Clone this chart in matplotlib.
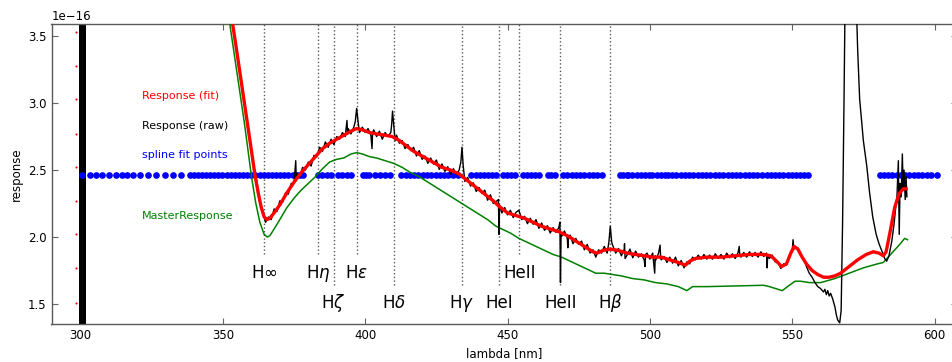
import numpy as np
import matplotlib
matplotlib.use('Agg')
import matplotlib.pyplot as plt

SCALE = 1e-16

# spectral lines marked on the plot (nm), label text, label row (0 = upper, 1 = lower)
line_wl = [364.6, 383.5, 388.9, 397.0, 410.2, 434.0, 447.1, 454.1, 468.6, 486.1]
line_names = [r'H$\infty$', r'H$\eta$', r'H$\zeta$', r'H$\epsilon$', r'H$\delta$',
              r'H$\gamma$', 'HeI', 'HeII', 'HeII', r'H$\beta$']
line_row = [0, 0, 1, 0, 1, 1, 1, 0, 1, 1]

# MasterResponse
master_wl = [351.0, 352.5, 355.0, 357.5, 360.0, 361.5, 363.0, 364.5, 365.6, 366.5,
             368.0, 370.0, 372.5, 375.0, 377.5, 380.0, 382.5, 385.0, 387.5, 390.0,
             392.5, 395.0, 397.0, 399.0, 401.5, 404.0, 407.0, 410.0, 413.0, 416.0,
             419.0, 422.0, 425.0, 428.0, 431.0, 434.0, 437.0, 440.0, 443.0, 446.0,
             448.0, 451.0, 454.0, 457.0, 460.0, 463.0, 466.0, 469.0, 472.0, 475.0,
             478.0, 481.0, 484.0, 487.0, 490.0, 494.0, 498.0, 502.0, 506.0, 510.0,
             513.0, 515.0, 520.0, 530.0, 540.0, 542.0, 546.5, 549.0, 551.0, 553.0,
             556.0, 560.0, 565.0, 570.0, 575.0, 580.0, 582.0, 585.0, 588.0, 589.5,
             590.5]
master_val = [3.80, 3.58, 3.22, 2.86, 2.46, 2.26, 2.11, 2.02, 2.00, 2.01,
              2.06, 2.13, 2.22, 2.29, 2.35, 2.40, 2.45, 2.51, 2.56, 2.58,
              2.59, 2.62, 2.63, 2.62, 2.60, 2.59, 2.57, 2.55, 2.52, 2.48,
              2.45, 2.41, 2.37, 2.33, 2.29, 2.25, 2.21, 2.17, 2.13, 2.08,
              2.06, 2.03, 1.99, 1.96, 1.93, 1.90, 1.87, 1.85, 1.82, 1.79,
              1.76, 1.73, 1.73, 1.72, 1.71, 1.69, 1.68, 1.66, 1.65, 1.63,
              1.60, 1.63, 1.63, 1.635, 1.64, 1.63, 1.60, 1.64, 1.67, 1.67,
              1.66, 1.66, 1.69, 1.73, 1.77, 1.80, 1.81, 1.88, 1.95, 1.99,
              1.98]

# Response (fit)
fit_wl = [351.0, 353.5, 355.0, 357.5, 360.0, 361.3, 362.5, 363.5, 364.5, 365.5,
          366.5, 368.0, 370.0, 372.5, 375.0, 377.5, 380.0, 382.5, 385.0, 387.5,
          390.0, 392.5, 395.0, 397.0, 399.0, 401.5, 404.0, 407.0, 409.5, 412.0,
          414.5, 417.0, 419.5, 422.0, 424.5, 427.0, 430.0, 433.0, 436.0, 439.0,
          442.0, 445.0, 447.0, 450.0, 453.0, 456.0, 459.0, 462.0, 465.0, 468.0,
          471.0, 474.0, 477.0, 480.0, 481.5, 483.5, 486.0, 489.0, 492.0, 495.0,
          498.0, 501.0, 504.0, 507.0, 510.0, 512.5, 514.0, 516.0, 520.0, 525.0,
          530.0, 535.0, 540.0, 542.5, 544.5, 546.3, 548.0, 549.5, 550.7, 552.0,
          553.5, 555.0, 557.0, 559.0, 561.0, 563.0, 565.0, 567.0, 570.0, 573.0,
          576.0, 578.5, 580.5, 582.0, 583.0, 584.5, 586.0, 587.5, 589.0, 590.0]
fit_val = [3.75, 3.58, 3.37, 3.01, 2.65, 2.46, 2.32, 2.22, 2.15, 2.13,
           2.14, 2.18, 2.24, 2.33, 2.41, 2.48, 2.54, 2.60, 2.66, 2.70,
           2.73, 2.76, 2.79, 2.81, 2.80, 2.78, 2.77, 2.76, 2.75, 2.72,
           2.68, 2.64, 2.61, 2.58, 2.55, 2.52, 2.50, 2.47, 2.42, 2.37,
           2.32, 2.27, 2.23, 2.18, 2.16, 2.14, 2.11, 2.08, 2.06, 2.04,
           2.01, 1.97, 1.93, 1.89, 1.88, 1.90, 1.91, 1.90, 1.88, 1.87,
           1.86, 1.85, 1.85, 1.83, 1.81, 1.79, 1.82, 1.84, 1.85, 1.85,
           1.86, 1.87, 1.87, 1.86, 1.82, 1.78, 1.80, 1.88, 1.93, 1.91,
           1.85, 1.80, 1.75, 1.72, 1.70, 1.70, 1.71, 1.73, 1.78, 1.83,
           1.87, 1.89, 1.88, 1.86, 1.89, 2.05, 2.22, 2.32, 2.36, 2.36]

# Response (raw), noisy trace with the emission / cosmic spikes
raw_wl = [351.0, 353.5, 355.0, 357.5, 360.0, 361.3,
          362, 363, 364, 365, 366, 367, 368, 369, 370, 371,
          372, 373, 374, 375, 375.6, 375.8, 376, 377, 378, 379,
          380, 381, 382, 383, 384, 385, 386, 387, 388, 389,
          390, 391, 392, 393, 393.6, 393.8, 394, 395, 396, 396.5,
          397.0, 397.5, 398, 399, 400, 401, 402, 402.4, 402.6, 403,
          404, 405, 406, 407, 408, 409, 409.3, 409.6, 410.0, 410.5,
          411, 412, 413, 414, 415, 416, 417, 418, 419, 420,
          421, 422, 423, 424, 425, 426, 427, 428, 429, 430,
          431, 432, 433, 433.6, 434.0, 434.4, 435, 436, 437, 438,
          439, 440, 441, 442, 443, 444, 445, 446, 446.8, 447.0,
          447.2, 448, 449, 450, 451, 452, 453, 454, 455, 456,
          457, 458, 459, 460, 461, 462, 463, 464, 465, 466,
          467, 468, 468.4, 468.6, 468.8, 469, 470, 471, 471.2, 471.4,
          472, 473, 474, 475, 476, 477, 478, 479, 480, 481,
          482, 483, 484, 485, 485.6, 486.1, 486.6, 487, 488, 489,
          490, 491, 491.1, 491.3, 492, 493, 494, 495, 496, 497,
          498, 498.3, 498.5, 499, 500, 501, 501.7, 501.9, 502, 503,
          503.6, 503.8, 504, 505, 506, 507, 508, 509, 510, 511,
          512, 513, 514, 515, 516, 517, 518, 519, 520, 521,
          522, 523, 524, 525, 526, 527, 528, 529, 530, 531,
          531.4, 531.6, 532, 533, 534, 535, 536, 537, 538, 539,
          540, 541, 541.2, 541.4, 542, 543, 544, 545, 546, 547,
          548, 549, 550, 550.3, 550.6, 551, 552, 553, 554, 555,
          556, 557, 558, 559, 560, 561, 561.5, 562, 562.5, 563,
          563.5, 564.2, 565.0, 565.5, 566.0, 566.7, 567.2, 567.7, 568.2, 568.7,
          569.5, 571.5, 572.3, 573.0, 573.7, 575.0, 576.2, 577.2, 578.3, 579.5,
          580.5, 581.8, 582.5, 583.2, 584.0, 585.0, 585.8, 586.5, 586.8, 587.3,
          587.6, 587.9, 588.3, 588.7, 589.0, 589.3, 589.7, 590.0, 590.3]
raw_val = [3.75, 3.58, 3.37, 3.01, 2.65, 2.46,
           2.41, 2.25, 2.20, 2.11, 2.15, 2.13, 2.21, 2.19, 2.27, 2.26,
           2.33, 2.32, 2.40, 2.40, 2.57, 2.42, 2.47, 2.45, 2.52, 2.50,
           2.56, 2.53, 2.61, 2.60, 2.67, 2.64, 2.71, 2.67, 2.73, 2.69,
           2.75, 2.73, 2.78, 2.75, 2.87, 2.78, 2.81, 2.77, 2.82, 2.86,
           2.96, 2.86, 2.78, 2.82, 2.78, 2.81, 2.76, 2.66, 2.78, 2.80,
           2.75, 2.79, 2.73, 2.78, 2.75, 2.78, 2.84, 2.94, 2.84, 2.72,
           2.76, 2.70, 2.72, 2.66, 2.69, 2.645, 2.67, 2.605, 2.645, 2.58,
           2.605, 2.55, 2.59, 2.545, 2.575, 2.505, 2.545, 2.49, 2.525, 2.47,
           2.51, 2.465, 2.50, 2.56, 2.67, 2.54, 2.415, 2.445, 2.38, 2.405,
           2.34, 2.37, 2.325, 2.35, 2.275, 2.315, 2.25, 2.265, 2.28, 2.02,
           2.24, 2.18, 2.22, 2.165, 2.20, 2.145, 2.185, 2.20, 2.13, 2.155,
           2.10, 2.14, 2.095, 2.13, 2.065, 2.105, 2.05, 2.085, 2.03, 2.07,
           2.035, 2.07, 2.11, 1.66, 2.02, 2.005, 2.045, 1.99, 1.92, 2.00,
           2.015, 1.95, 1.99, 1.945, 1.97, 1.905, 1.945, 1.88, 1.905, 1.85,
           1.905, 1.88, 1.93, 1.88, 1.96, 2.08, 1.96, 1.935, 1.88, 1.915,
           1.86, 1.91, 1.95, 1.84, 1.865, 1.91, 1.845, 1.895, 1.85, 1.875,
           1.83, 1.78, 1.87, 1.88, 1.835, 1.88, 1.73, 1.86, 1.825, 1.875,
           1.94, 1.84, 1.83, 1.855, 1.81, 1.85, 1.805, 1.85, 1.785, 1.825,
           1.77, 1.815, 1.80, 1.85, 1.83, 1.865, 1.835, 1.87, 1.835, 1.865,
           1.835, 1.875, 1.84, 1.87, 1.835, 1.88, 1.845, 1.875, 1.84, 1.885,
           1.93, 1.86, 1.85, 1.885, 1.85, 1.89, 1.855, 1.885, 1.85, 1.89,
           1.855, 1.88, 1.77, 1.86, 1.84, 1.865, 1.815, 1.815, 1.765, 1.80,
           1.79, 1.86, 1.89, 1.98, 1.91, 1.92, 1.92, 1.86, 1.84, 1.78,
           1.73, 1.70, 1.66, 1.63, 1.615, 1.59, 1.61, 1.57, 1.60, 1.56,
           1.58, 1.54, 1.48, 1.42, 1.38, 1.36, 1.45, 2.10, 3.00, 4.00,
           4.50, 4.50, 3.90, 3.40, 3.03, 2.72, 2.53, 2.33, 2.15, 2.02,
           1.95, 1.88, 1.84, 1.82, 1.86, 1.97, 2.10, 2.25, 2.30, 2.57,
           2.02, 2.40, 2.30, 2.62, 2.35, 2.50, 2.28, 2.45, 2.30]

# wavelengths of the spline fit points
spline_wl = [300.6, 303.2, 305.3, 307.6, 310.0, 312.5, 314.5, 316.4, 318.6, 321.0,
             323.6, 326.6, 329.5, 332.4, 335.3,
             338.3, 339.8, 341.2, 342.6, 344.0, 345.5, 347.0, 348.4, 349.8, 351.3,
             352.7, 354.2, 355.6, 357.1, 358.5, 360.0, 361.4, 362.9, 364.3, 365.8,
             367.2, 368.7, 370.1, 371.6, 373.0, 374.5, 375.9, 377.0, 378.1,
             383.4, 385.0, 386.6, 388.1,
             390.4, 392.0, 393.6, 395.1,
             399.2, 400.4, 401.5,
             403.4, 405.1, 406.9, 408.6,
             412.7, 414.2, 415.7, 417.2, 418.7, 420.2, 421.7, 423.2, 424.7, 426.2,
             427.7, 429.2, 430.7, 432.6,
             437.3, 438.8, 440.3, 441.8, 443.2, 444.7, 446.1,
             448.4, 449.8, 451.2, 452.5,
             455.3, 456.8, 458.3, 459.8, 461.2,
             464.2, 465.4, 466.6,
             469.5, 471.0, 472.5, 474.0, 475.5, 477.0, 478.5, 480.0, 481.5, 483.3,
             489.4, 490.6, 491.8,
             492.4, 493.9, 495.4, 496.9, 498.4, 499.6, 500.6,
             502.4, 503.8, 505.2,
             506.3, 507.8, 509.3, 510.8, 512.3, 513.8, 515.3, 516.8, 518.3, 519.8,
             521.3, 522.8, 524.3, 525.8, 527.3, 528.8, 530.3, 531.8, 533.3, 534.8,
             536.3, 537.8, 539.4, 541.0,
             542.4, 543.9, 545.4, 546.9, 548.4, 549.9, 551.4, 552.9, 554.2, 555.4,
             580.7, 582.2, 583.7, 585.2, 586.7, 588.2, 589.7, 591.2, 592.7, 594.2,
             595.7, 597.2, 598.8, 600.8]
spline_level = 2.46

# fit values running off the top at the blue end
fit_edge_wl = 298.5
fit_edge_val = [3.53, 3.28, 3.03, 2.77, 2.52, 2.27, 2.02, 1.77, 1.51]

# saturated raw data band
raw_band = (299.4, 301.9)

# series captions
captions = ['Response (fit)', 'Response (raw)', 'spline fit points', 'MasterResponse']
caption_y = [3.05, 2.83, 2.61, 2.157]
caption_colors = ['red', 'black', 'blue', 'green']


if __name__ == '__main__':

    plt.rcParams['font.family'] = 'DejaVu Sans'
    plt.rcParams['mathtext.fontset'] = 'dejavusans'
    plt.rcParams['xtick.direction'] = 'in'
    plt.rcParams['ytick.direction'] = 'in'

    fig = plt.figure(figsize=(9.52, 3.62), dpi=100)
    ax = fig.add_axes([51.5 / 952, 38 / 362, (957 - 51.5) / 952, 300 / 362])

    ymin, ymax = 1.351, 3.59

    # dotted markers for the spectral lines, stopping above their labels
    label_y = [1.731, 1.507]
    stop_y = [1.87, 1.645]
    for wl, name, row in zip(line_wl, line_names, line_row):
        ax.plot([wl, wl], [stop_y[row] * SCALE, ymax * SCALE], ls=':', color='0.35',
                lw=1.0, zorder=1)
        ax.text(wl, label_y[row] * SCALE, name, ha='center', va='center', fontsize=12,
                zorder=3)

    ax.axvspan(raw_band[0], raw_band[1], color='black', lw=0, zorder=2)
    ax.plot([fit_edge_wl] * len(fit_edge_val), np.array(fit_edge_val) * SCALE, 'o',
            color='red', ms=1.5, mew=0, zorder=2)

    ax.plot(spline_wl, [spline_level * SCALE] * len(spline_wl), 'o', color='blue',
            mec='blue', ms=3.8, zorder=2)
    ax.plot(master_wl, np.array(master_val) * SCALE, color='green', lw=1.1, zorder=3)
    ax.plot(raw_wl, np.array(raw_val) * SCALE, color='black', lw=1.0, zorder=4)
    ax.plot(fit_wl, np.array(fit_val) * SCALE, color='red', lw=2.4, zorder=5)

    for txt, y, c in zip(captions, caption_y, caption_colors):
        ax.text(321.6, y * SCALE, txt, color=c, fontsize=8, ha='left', va='center')

    ax.set_xlim(289.8, 607.9)
    ax.set_ylim(ymin * SCALE, ymax * SCALE)
    ax.set_xticks([300, 350, 400, 450, 500, 550, 600])
    ax.set_yticks(np.array([1.5, 2.0, 2.5, 3.0, 3.5]) * SCALE)
    ax.tick_params(top=True, right=True, labelsize=8.5, length=4, width=0.8,
                   color='0.4')
    for sp in ax.spines.values():
        sp.set_color('0.35')
        sp.set_linewidth(1.0)
    ax.yaxis.get_offset_text().set_fontsize(8.5)

    ax.set_xlabel('lambda [nm]', fontsize=8.5)
    ax.set_ylabel('response', fontsize=8.5)

    plt.savefig('out.png', dpi=100)
